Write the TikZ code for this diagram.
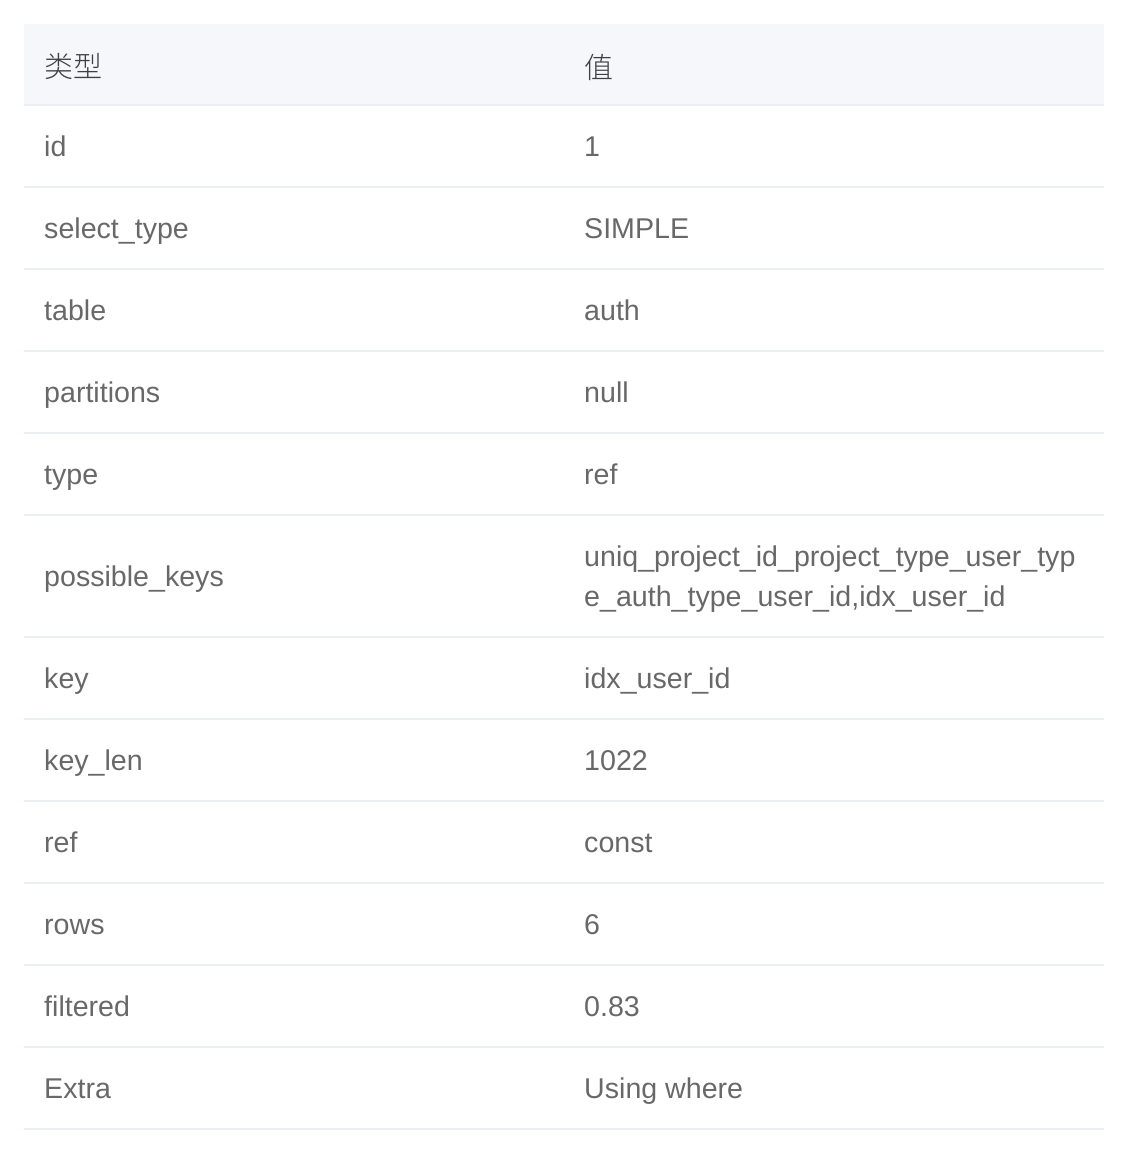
\documentclass[tikz,border=0pt]{standalone}
\usepackage{fontspec}
\setmainfont{Liberation Sans}
\newfontfamily\cjk{Noto Sans CJK SC Light}
\usepackage{tikz}
\usetikzlibrary{positioning}
\definecolor{headfill}{HTML}{F5F7FA}
\definecolor{rulegray}{HTML}{EBEEF3}
\definecolor{headtext}{HTML}{404040}
\definecolor{celltext}{HTML}{686868}

\begin{document}
\begin{tikzpicture}[x=1pt, y=-1pt, head/.style={anchor=west, inner sep=0pt, font=\cjk\fontsize{29}{34}\selectfont, text=headtext}, cell/.style={anchor=base west, inner sep=0pt, font=\fontsize{28.6}{40}\selectfont, text=celltext}, rule/.style={draw=rulegray, line width=2pt}]
    \useasboundingbox (0,0) rectangle (1140,1156);
    \fill[headfill] (24,24) rectangle (1104,105);

    \path[rule]
        (24,105) -- (1104,105)
        (24,187) -- (1104,187)
        (24,269) -- (1104,269)
        (24,351) -- (1104,351)
        (24,433) -- (1104,433)
        (24,515) -- (1104,515)
        (24,637) -- (1104,637)
        (24,719) -- (1104,719)
        (24,801) -- (1104,801)
        (24,883) -- (1104,883)
        (24,965) -- (1104,965)
        (24,1047) -- (1104,1047)
        (24,1129) -- (1104,1129)
        ;

    \node[head] (H1) at (44,67) {类型};
    \node[head] (H2) at (584,67) {值};

    \node[cell] (K1) at (44,156.5) {id};
    \node[cell] (V1) at (584,156.5) {1};
    \node[cell] (K2) at (44,238.5) {select\_type};
    \node[cell] (V2) at (584,238.5) {SIMPLE};
    \node[cell] (K3) at (44,320.5) {table};
    \node[cell] (V3) at (584,320.5) {auth};
    \node[cell] (K4) at (44,402.5) {partitions};
    \node[cell] (V4) at (584,402.5) {null};
    \node[cell] (K5) at (44,484.5) {type};
    \node[cell] (V5) at (584,484.5) {ref};
    \node[cell] (K6) at (44,586.5) {possible\_keys};
    \node[cell] (V6a) at (584,566.5) {uniq\_project\_id\_project\_type\_user\_typ};
    \node[cell] (V6b) at (584,606.5) {e\_auth\_type\_user\_id,idx\_user\_id};
    \node[cell] (K7) at (44,688.5) {key};
    \node[cell] (V7) at (584,688.5) {idx\_user\_id};
    \node[cell] (K8) at (44,770.5) {key\_len};
    \node[cell] (V8) at (584,770.5) {1022};
    \node[cell] (K9) at (44,852.5) {ref};
    \node[cell] (V9) at (584,852.5) {const};
    \node[cell] (K10) at (44,934.5) {rows};
    \node[cell] (V10) at (584,934.5) {6};
    \node[cell] (K11) at (44,1016.5) {filtered};
    \node[cell] (V11) at (584,1016.5) {0.83};
    \node[cell] (K12) at (44,1098.5) {Extra};
    \node[cell] (V12) at (584,1098.5) {Using where};
\end{tikzpicture}
\end{document}
